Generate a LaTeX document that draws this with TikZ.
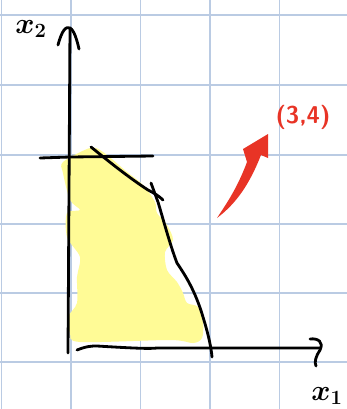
\documentclass[tikz,border=0pt]{standalone}
\usepackage{xcolor}
\usepackage{tikz}
\usetikzlibrary{arrows.meta}
\definecolor{gridblue}    {RGB}{186,203,227}
\definecolor{hiliteyellow}{RGB}{255,251,150}
\definecolor{penred}      {RGB}{232,52,38}
\tikzset{
  gridline/.style={draw=gridblue, line width=1pt},
  pen/.style     ={draw=black, line width=2pt, line cap=round, line join=round},
  hilite/.style  ={fill=hiliteyellow},
  penlabel/.style={font=\huge\boldmath, inner sep=0pt},
  redlabel/.style={font=\LARGE\sffamily\bfseries, text=penred, inner sep=0pt},
}

\begin{document}
\begin{tikzpicture}[x=0.025cm, y=-0.025cm]
  \useasboundingbox (0,0) rectangle (347,409);
  \fill[white] (0,0) rectangle (347,409);
  %% grid paper
  \foreach \gx in {1.5,71,140.5,210,279.5}
    \draw[gridline] (\gx,0) -- (\gx,409);
  \foreach \gy in {15,85,155,224,293,362}
    \draw[gridline] (0,\gy) -- (347,\gy);
  %% feasible region
  \fill[hilite] plot[smooth cycle, tension=0.5] coordinates {
    (63,162) (90,148) (103,152) (127,172) (143,185) (155,202) (157,213)
    (167,225) (173,240) (165,252) (167,270) (177,282) (183,293) (187,303)
    (198,307) (203,323) (202,338) (193,343) (170,340) (80,342) (70,333)
    (68,317) (77,303) (77,277) (80,257) (67,237) (67,213) (80,210)
    (70,200) (63,173)};
  %% axes
  \coordinate (o)  at (68,353);
  \coordinate (y2) at (70,28);
  \coordinate (x0) at (77,350);
  \coordinate (x1) at (320,348);
  \draw[pen] (o) -- (y2);
  \draw[pen] (58,45) .. controls (62,30) and (66,26) .. (y2)
             .. controls (74,30) and (77,40) .. (79,49);
  \draw[pen] (x0) .. controls (87,346) and (92,346) .. (97,346)
             .. controls (130,348) and (150,349) .. (157,348) -- (x1);
  \draw[pen] (310,339) .. controls (318,338) and (324,342) .. (320,350)
             .. controls (316,356) and (314,362) .. (316,366);
  \node[penlabel] (lblx2) at (31,29) {$x_2$};
  \node[penlabel] (lblx1) at (327,396) {$x_1$};
  %% constraints
  \draw[pen] (40,158) -- (70,157) -- (153,156);
  \draw[pen] (91,147) .. controls (107,160) and (128,177) .. (148,190)
             .. controls (154,193) and (159,196) .. (163,200);
  \draw[pen] (151,183) -- (158,202) .. controls (162,215) and (170,245) .. (177,263)
             .. controls (185,275) and (195,290) .. (203,317)
             .. controls (207,330) and (211,345) .. (212,357);
  %% objective direction
  \fill[penred] (217,218) .. controls (229,200) and (238,186) .. (247,162)
                -- (243,149) -- (268,134) -- (268,158) -- (261,155)
                .. controls (250,183) and (237,203) .. (217,218) -- cycle;
  \node[redlabel] (lblc) at (303,117) {(3,4)};
\end{tikzpicture}
\end{document}
